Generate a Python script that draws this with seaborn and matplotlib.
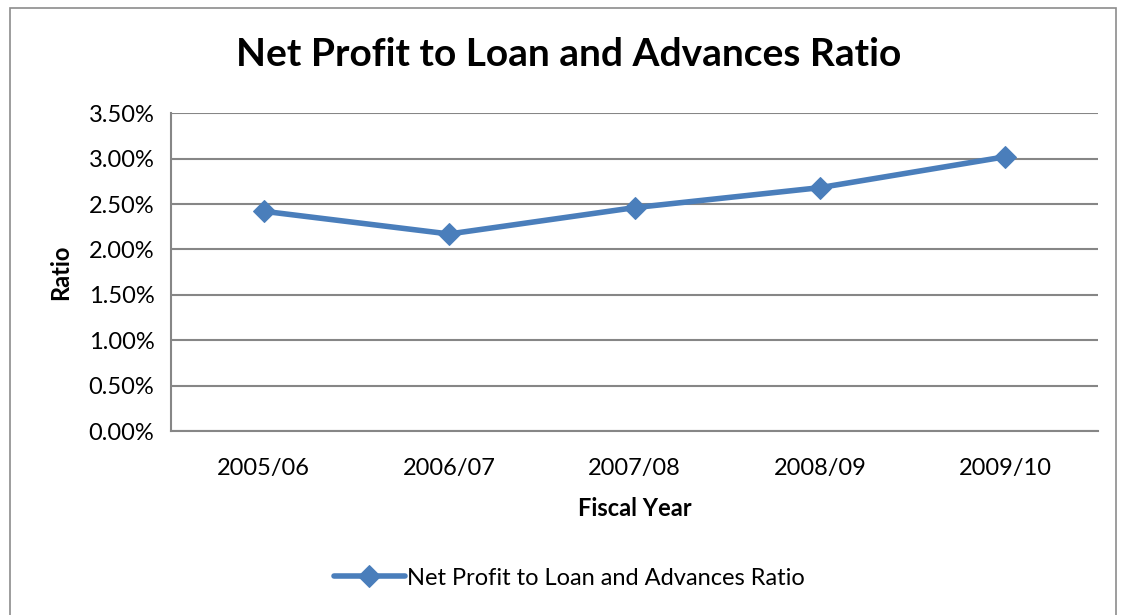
import pandas as pd
import matplotlib.pyplot as plt
import seaborn as sns
from matplotlib.ticker import FuncFormatter, FixedLocator
from matplotlib.patches import Rectangle

# --------------------------------
# DATA
# --------------------------------

fiscal_years = ["2005/06", "2006/07", "2007/08", "2008/09", "2009/10"]

ratio_pct = [2.42, 2.17, 2.46, 2.68, 3.02]

series_name = "Net Profit to Loan and Advances Ratio"

df = pd.DataFrame({
    "Fiscal Year": fiscal_years,
    "Ratio": [v / 100 for v in ratio_pct],
    "Series": series_name
})

# --------------------------------
# STYLE
# --------------------------------

sns.set_style("white")
plt.rcParams["font.family"] = ["Lato", "DejaVu Sans"]
plt.rcParams["text.color"] = "black"
plt.rcParams["axes.labelcolor"] = "black"
plt.rcParams["xtick.color"] = "black"
plt.rcParams["ytick.color"] = "black"

line_color = "#4A7EBB"
grid_color = "#868686"

fig = plt.figure(figsize=(11.25, 6.15), dpi=100)
ax = fig.add_axes([0.152, 0.299, 0.824, 0.517])

# chart frame
fig.patches.append(Rectangle(
    (0.009, -0.01), 0.983, 0.997,
    transform=fig.transFigure,
    fill=False, edgecolor="#8c8c8c", linewidth=1.2
))

# --------------------------------
# PLOT
# --------------------------------

sns.lineplot(
    data=df,
    x="Fiscal Year",
    y="Ratio",
    hue="Series",
    palette=[line_color],
    marker="D",
    markersize=11,
    markeredgecolor=line_color,
    linewidth=4,
    sort=False,
    ax=ax
)

ax.set_xlim(-0.5, 4.5)
ax.set_ylim(0, 0.035)
ax.yaxis.set_major_locator(FixedLocator([i * 0.005 for i in range(8)]))
ax.yaxis.set_major_formatter(FuncFormatter(lambda v, p: f"{v * 100:.2f}%"))

ax.grid(axis="y", color=grid_color, linewidth=1.5)
ax.set_axisbelow(True)

for side in ["top", "right"]:
    ax.spines[side].set_visible(False)
for side in ["left", "bottom"]:
    ax.spines[side].set_color(grid_color)
    ax.spines[side].set_linewidth(1.5)

ax.tick_params(axis="y", which="major", length=8, width=1.5, color=grid_color,
               direction="out", labelsize=17, pad=4)
ax.tick_params(axis="x", which="major", length=0, labelsize=17, pad=19)
ax.xaxis.set_minor_locator(FixedLocator([i - 0.5 for i in range(6)]))
ax.tick_params(axis="x", which="minor", length=8, width=1.5, color=grid_color,
               direction="out")

fig.text(0.505, 0.911, series_name, fontsize=28, fontweight="bold",
         ha="center", va="center")
ax.set_xlabel("Fiscal Year", fontsize=17, fontweight="bold", labelpad=13)
ax.set_ylabel("Ratio", fontsize=17, fontweight="bold", labelpad=12)

handles, labels = ax.get_legend_handles_labels()
ax.get_legend().remove()
fig.legend(
    handles, labels,
    loc="center",
    bbox_to_anchor=(0.506, 0.06),
    frameon=False,
    fontsize=17,
    handlelength=3.0,
    handletextpad=0.1
)

fig.savefig("out.png", dpi=100)
